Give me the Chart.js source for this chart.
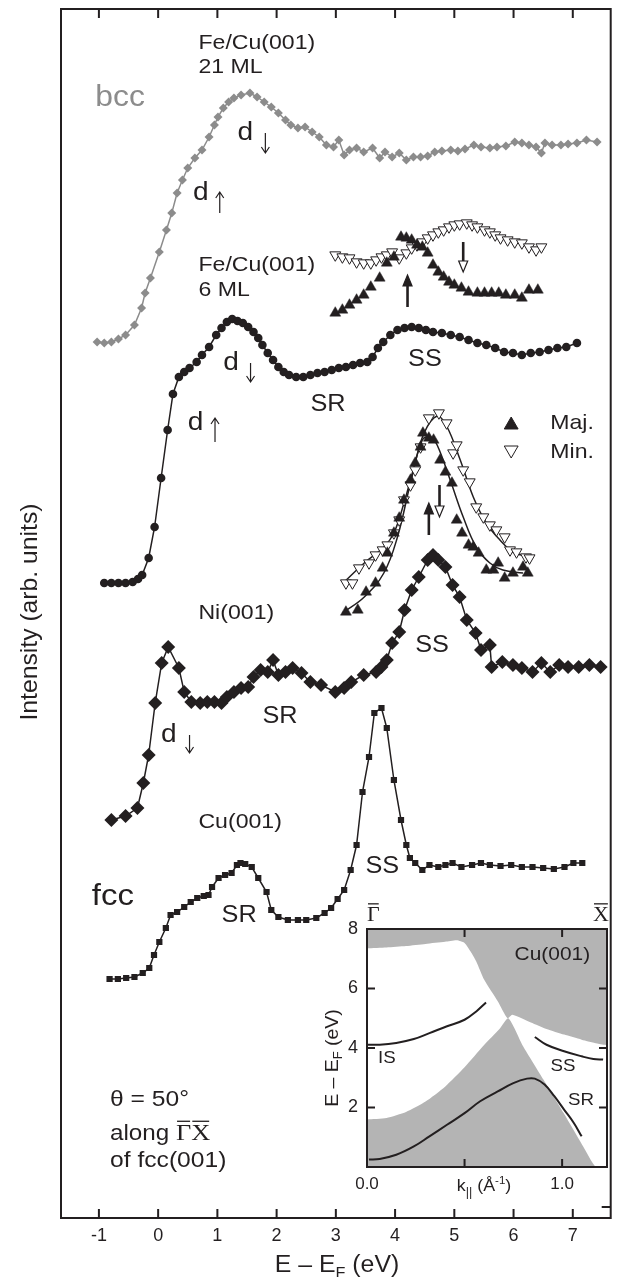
<!DOCTYPE html>
<html>
<head>
<meta charset="utf-8">
<script src="https://cdn.jsdelivr.net/npm/chart.js@4.4.1/dist/chart.umd.min.js"></script>
<style>
    html, body { margin: 0; padding: 0; background: #fff; }
    #wrap { position: relative; width: 618px; height: 1279px; }
    #main { position: absolute; left: 0; top: 0; width: 618px; height: 1279px; }
    #inset { position: absolute; left: 300px; top: 880px; width: 318px; height: 320px; }
</style>
</head>
<body>
<div id="wrap">
    <canvas id="main" width="618" height="1279"></canvas>
    <canvas id="inset" width="318" height="320"></canvas>
</div>
<script>
// ---- main panel data (E - EF in eV, intensity in arb. units) ----
const E_TICKS = [-1, 0, 1, 2, 3, 4, 5, 6, 7];
const I_TICKS = [1.1];

// bcc Fe/Cu(001) 21 ML
const bccE = [-1.03, -0.91, -0.79, -0.67, -0.55, -0.40, -0.28, -0.22, -0.13, 0.02, 0.14, 0.23, 0.32, 0.41, 0.50, 0.62, 0.74,
    0.86, 0.95, 1.01, 1.10, 1.19, 1.28, 1.40, 1.55, 1.67, 1.79, 1.91, 2.03, 2.15, 2.24, 2.36, 2.48, 2.60, 2.72, 2.84, 2.96,
    3.05, 3.14, 3.23, 3.35, 3.47, 3.62, 3.74, 3.83, 3.95, 4.07, 4.19, 4.31, 4.43, 4.55, 4.67, 4.79, 4.94, 5.06, 5.18, 5.33,
    5.45, 5.60, 5.72, 5.87, 6.02, 6.14, 6.26, 6.38, 6.47, 6.53, 6.65, 6.80, 6.92, 7.07, 7.23, 7.41];
const bccI = [87.6, 87.5, 87.6, 87.9, 88.3, 89.3, 91.0, 92.5, 94.0, 96.6, 98.8, 100.5, 102.5, 103.8, 105.0, 106.0, 106.8,
    108.1, 109.3, 110.1, 111.0, 111.6, 112.0, 112.3, 112.5, 112.1, 111.6, 111.1, 110.5, 109.8, 109.3, 109.0, 109.1, 108.6, 108.1, 107.3, 107.1,
    107.8, 106.3, 106.8, 107.0, 106.6, 107.0, 106.0, 106.6, 106.1, 106.5, 105.8, 106.1, 106.1, 106.2, 106.6, 106.7, 106.8, 106.7, 106.9, 107.3,
    107.1, 107.0, 107.1, 107.2, 107.6, 107.5, 107.3, 107.1, 106.5, 107.5, 107.3, 107.3, 107.4, 107.5, 107.8, 107.6];

// fcc Fe/Cu(001) 6 ML, spin resolved
const fe6MajE = [2.99, 3.11, 3.23, 3.35, 3.47, 3.59, 3.74, 3.86, 3.98, 4.10, 4.19, 4.28, 4.37, 4.46, 4.55, 4.64, 4.73, 4.82,
    4.91, 5.00, 5.12, 5.24, 5.39, 5.51, 5.63, 5.75, 5.87, 6.02, 6.14, 6.26, 6.41];
const fe6MajI = [90.5, 90.8, 91.3, 91.8, 92.3, 93.1, 94.0, 95.5, 96.1, 98.1, 98.0, 97.8, 97.3, 97.1, 96.5, 95.3, 94.6, 94.1,
    93.6, 93.3, 93.0, 92.6, 92.5, 92.5, 92.5, 92.5, 92.3, 92.3, 92.0, 92.8, 92.8];
const fe6MinE = [2.99, 3.11, 3.23, 3.35, 3.47, 3.59, 3.68, 3.77, 3.86, 3.95, 4.07, 4.19, 4.28, 4.37, 4.46, 4.55, 4.64, 4.73,
    4.82, 4.91, 5.00, 5.09, 5.21, 5.30, 5.39, 5.51, 5.60, 5.69, 5.78, 5.90, 6.02, 6.14, 6.26, 6.38, 6.47];
const fe6MinI = [96.3, 96.1, 96.0, 95.6, 95.5, 95.5, 95.8, 96.1, 96.3, 96.6, 96.0, 96.5, 97.0, 97.3, 97.6, 98.0, 98.3, 98.6,
    98.8, 99.1, 99.3, 99.4, 99.5, 99.3, 99.1, 98.8, 98.6, 98.3, 98.0, 97.8, 97.6, 97.5, 97.1, 96.8, 97.1];

// fcc Fe/Cu(001) 6 ML, spin integrated
const fe6E = [-0.91, -0.79, -0.67, -0.55, -0.43, -0.34, -0.27, -0.16, -0.06, 0.05, 0.16, 0.25, 0.35, 0.44, 0.53, 0.65, 0.74, 0.86,
    0.98, 1.07, 1.16, 1.25, 1.34, 1.43, 1.52, 1.61, 1.69, 1.76, 1.85, 1.94, 2.03, 2.12, 2.21, 2.33, 2.45, 2.57, 2.69, 2.81,
    2.93, 3.05, 3.17, 3.29, 3.41, 3.53, 3.62, 3.71, 3.80, 3.92, 4.04, 4.16, 4.28, 4.40, 4.52, 4.64, 4.79, 4.94, 5.09, 5.24,
    5.39, 5.54, 5.69, 5.84, 5.99, 6.14, 6.29, 6.44, 6.59, 6.74, 6.89, 7.07];
const fe6I = [63.5, 63.5, 63.5, 63.5, 63.6, 63.9, 64.3, 66.0, 69.1, 74.0, 78.8, 82.4, 84.1, 84.6, 85.0, 85.6, 86.3, 87.1,
    88.3, 89.0, 89.6, 89.9, 89.7, 89.5, 89.1, 88.6, 88.0, 87.3, 86.5, 85.8, 85.1, 84.6, 84.3, 84.1, 84.1, 84.3, 84.5, 84.6,
    84.8, 85.0, 85.1, 85.3, 85.5, 85.6, 86.1, 87.0, 87.6, 88.3, 88.8, 89.0, 89.1, 89.0, 88.8, 88.6, 88.5, 88.3, 88.1, 87.8,
    87.5, 87.3, 87.0, 86.6, 86.5, 86.3, 86.5, 86.6, 86.8, 87.0, 87.1, 87.5];

// Ni(001), spin resolved + fitted curves
const niMajE = [3.17, 3.37, 3.51, 3.67, 3.79, 3.87, 3.98, 4.07, 4.15, 4.26, 4.34, 4.43, 4.47, 4.57, 4.65, 4.76, 4.85, 4.96,
    5.04, 5.13, 5.24, 5.32, 5.41, 5.54, 5.66, 5.74, 5.85, 5.99, 6.16, 6.24];
const niMajI = [60.6, 60.8, 62.6, 63.5, 65.0, 66.5, 68.5, 70.0, 71.8, 73.8, 75.5, 77.1, 78.5, 78.0, 77.8, 75.8, 74.6, 73.5,
    69.8, 68.5, 67.3, 67.1, 66.5, 64.8, 64.8, 65.5, 64.0, 64.5, 65.1, 64.5];
const niMinE = [3.17, 3.28, 3.39, 3.56, 3.67, 3.79, 3.87, 3.98, 4.07, 4.15, 4.26, 4.34, 4.43, 4.57, 4.74, 4.87, 4.98, 5.04,
    5.15, 5.26, 5.37, 5.49, 5.60, 5.71, 5.85, 5.94, 6.05, 6.21, 6.27];
const niMinI = [63.5, 63.5, 65.0, 65.5, 66.3, 66.8, 67.3, 68.5, 69.8, 71.8, 73.3, 74.8, 77.1, 80.0, 80.5, 79.5, 76.5, 77.3,
    74.8, 73.6, 71.1, 70.1, 69.3, 68.8, 68.1, 66.8, 66.6, 66.1, 66.0];
const niMajFitE = [3.11, 3.48, 3.81, 4.04, 4.26, 4.46, 4.60, 4.71, 4.93, 5.15, 5.37, 5.60, 5.82, 6.16];
const niMajFitI = [60.5, 62.1, 64.5, 68.1, 73.5, 77.8, 78.1, 77.3, 73.8, 70.1, 67.1, 65.5, 64.8, 64.5];
const niMinFitE = [3.14, 3.48, 3.81, 3.98, 4.15, 4.32, 4.49, 4.71, 4.87, 5.10, 5.32, 5.54, 5.77, 5.99, 6.27];
const niMinFitI = [63.6, 65.5, 67.1, 68.5, 71.5, 75.1, 78.5, 80.2, 79.2, 75.8, 72.1, 69.5, 67.8, 66.6, 66.1];

// Ni(001), spin integrated
const niE = [-0.79, -0.55, -0.35, -0.25, -0.16, -0.05, 0.06, 0.17, 0.35, 0.44, 0.56, 0.71, 0.83, 0.95, 1.07, 1.16, 1.28, 1.40,
    1.52, 1.61, 1.73, 1.85, 1.94, 2.03, 2.15, 2.27, 2.42, 2.57, 2.75, 2.99, 3.14, 3.26, 3.47, 3.68, 3.77, 3.86, 3.95, 4.07,
    4.16, 4.28, 4.40, 4.55, 4.64, 4.73, 4.85, 4.97, 5.09, 5.21, 5.36, 5.45, 5.60, 5.63, 5.81, 5.99, 6.14, 6.32, 6.47, 6.62,
    6.77, 6.92, 7.10, 7.28, 7.47];
const niI = [39.8, 40.2, 41.0, 43.5, 46.3, 51.5, 55.5, 57.1, 55.0, 52.6, 51.6, 51.5, 51.6, 51.6, 51.5, 52.1, 52.6, 53.0,
    53.1, 54.1, 54.8, 54.6, 55.8, 54.3, 54.6, 55.0, 54.5, 53.6, 53.3, 52.6, 53.0, 53.6, 54.3, 54.6, 55.1, 55.8, 57.5, 58.6,
    60.8, 62.8, 64.1, 65.8, 66.3, 65.8, 65.1, 63.3, 62.1, 59.8, 58.5, 56.8, 57.3, 55.1, 55.6, 55.3, 55.0, 54.6, 55.5, 54.6,
    55.3, 55.1, 55.1, 55.3, 55.1];

// Cu(001)
const cuE = [-0.82, -0.68, -0.54, -0.40, -0.26, -0.15, -0.07, 0.02, 0.13, 0.21, 0.32, 0.44, 0.55, 0.66, 0.77, 0.85, 0.91, 1.02,
    1.13, 1.24, 1.33, 1.39, 1.47, 1.58, 1.69, 1.83, 1.91, 2.03, 2.19, 2.36, 2.50, 2.67, 2.81, 2.92, 3.03, 3.14, 3.25, 3.35,
    3.45, 3.56, 3.65, 3.77, 3.86, 3.98, 4.10, 4.19, 4.25, 4.34, 4.46, 4.58, 4.73, 4.85, 4.97, 5.12, 5.30, 5.45, 5.60, 5.78,
    5.96, 6.14, 6.32, 6.50, 6.68, 6.86, 7.01, 7.16];
const cuI = [23.9, 23.9, 24.0, 24.1, 24.5, 25.0, 26.3, 27.6, 29.0, 30.3, 30.6, 31.1, 31.6, 32.0, 32.2, 32.3, 33.1, 34.0,
    34.3, 34.5, 35.3, 35.5, 35.4, 35.1, 34.0, 32.6, 30.8, 30.1, 29.8, 29.8, 29.8, 30.0, 30.5, 31.0, 31.9, 32.8, 34.8, 37.3,
    42.6, 46.1, 50.5, 51.0, 49.0, 43.8, 39.8, 37.3, 36.0, 35.5, 34.8, 35.3, 35.1, 35.3, 35.5, 35.1, 35.3, 35.5, 35.3, 35.2,
    35.3, 35.1, 35.1, 35.0, 34.9, 35.1, 35.5, 35.5];

// ---- inset data: Cu(001) bands, k in 1/A, E - EF in eV ----
const K_TICKS = [0.5, 1.0];
const K_LABELS = [0, 1.0];
const EB_TICKS = [2, 4, 6];
const EB_LABELS = [2, 4, 6, 8];
const upperBandK = [0, 0.10, 0.20, 0.30, 0.40, 0.46, 0.50, 0.53, 0.56, 0.60, 0.67, 0.72, 0.745, 0.84, 0.92, 1.01, 1.10, 1.18, 1.23];
const upperBandE = [7.35, 7.38, 7.43, 7.50, 7.57, 7.62, 7.53, 7.25, 6.91, 6.30, 5.57, 5.00, 5.12, 4.86, 4.64, 4.45, 4.28, 4.15, 4.09];
const lowerBandK = [0, 0.10, 0.20, 0.30, 0.40, 0.50, 0.60, 0.68, 0.725, 0.80, 0.905, 1.007, 1.108, 1.173, 1.23];
const lowerBandE = [1.60, 1.65, 1.85, 2.20, 2.70, 3.35, 4.10, 4.65, 5.00, 4.06, 2.93, 1.82, 0.69, 0, 0];
const isK = [0, 0.065, 0.15, 0.24, 0.32, 0.41, 0.50, 0.56, 0.61];
const isE = [4.11, 4.11, 4.17, 4.30, 4.50, 4.73, 4.95, 5.23, 5.53];
const ssK = [0.86, 0.92, 1.01, 1.10, 1.16, 1.21];
const ssE = [4.37, 4.11, 3.89, 3.72, 3.63, 3.61];
const srK = [0.01, 0.065, 0.15, 0.24, 0.32, 0.41, 0.50, 0.58, 0.67, 0.75, 0.82, 0.86, 0.91, 0.96, 1.01, 1.06, 1.10];
const srE = [0.25, 0.27, 0.41, 0.69, 1.03, 1.42, 1.81, 2.21, 2.54, 2.82, 2.97, 2.97, 2.77, 2.38, 1.93, 1.48, 1.03];

const FONT = '"Liberation Sans", Arial, Helvetica, sans-serif';
const SERIF = '"Liberation Serif", "Times New Roman", serif';
const INK = '#231f20';
const BCC_GREY = '#8c8c8c';
const BAND_GREY = '#b4b4b4';

Chart.defaults.font.family = FONT;
Chart.defaults.color = INK;

function pts(xs, ys) {
    return xs.map((x, i) => ({ x: x, y: ys[i] }));
}

// text helper, glyphs a bit wider than Arial like in the original figure
function drawText(ctx, text, x, y, o) {
    o = o || {};
    ctx.save();
    ctx.translate(x, y);
    if (o.rotate) ctx.rotate(o.rotate);
    ctx.scale(o.stretch || 1.1, 1);
    ctx.font = (o.size || 21) + 'px ' + (o.family || FONT);
    ctx.fillStyle = o.color || INK;
    ctx.textAlign = o.align || 'left';
    ctx.textBaseline = o.baseline || 'middle';
    ctx.fillText(text, 0, 0);
    ctx.restore();
}

// mixed text with sub/superscripts and overlines, y is the baseline
function drawRich(ctx, parts, x, y, o) {
    o = o || {};
    ctx.save();
    ctx.translate(x, y);
    if (o.rotate) ctx.rotate(o.rotate);
    ctx.scale(o.stretch || 1.08, 1);
    ctx.fillStyle = INK;
    ctx.strokeStyle = INK;
    ctx.textAlign = 'left';
    ctx.textBaseline = 'alphabetic';
    let total = 0;
    parts.forEach(p => {
        ctx.font = p.size + 'px ' + (p.family || FONT);
        p.w = ctx.measureText(p.t).width;
        total += p.w;
    });
    let cx = o.align === 'center' ? -total / 2 : 0;
    parts.forEach(p => {
        ctx.font = p.size + 'px ' + (p.family || FONT);
        ctx.fillText(p.t, cx, p.dy || 0);
        if (p.bar) {
            ctx.lineWidth = 1.3;
            ctx.beginPath();
            ctx.moveTo(cx + 1, -p.size * 0.78);
            ctx.lineTo(cx + p.w - 1, -p.size * 0.78);
            ctx.stroke();
        }
        cx += p.w;
    });
    ctx.restore();
}

function thinArrow(ctx, px, pTop, pBot, up) {
    ctx.save();
    ctx.strokeStyle = INK;
    ctx.lineWidth = 1.2;
    ctx.beginPath();
    ctx.moveTo(px, pTop);
    ctx.lineTo(px, pBot);
    const tip = up ? pTop : pBot;
    const d = up ? 6 : -6;
    ctx.moveTo(px - 4, tip + d);
    ctx.lineTo(px, tip);
    ctx.lineTo(px + 4, tip + d);
    ctx.stroke();
    ctx.restore();
}

function bigArrow(ctx, px, pFrom, pTip, filled) {
    const dir = pTip < pFrom ? 1 : -1;   // 1 = pointing up
    const base = pTip + dir * 11;
    ctx.save();
    ctx.strokeStyle = INK;
    ctx.lineWidth = 2.6;
    ctx.beginPath();
    ctx.moveTo(px, pFrom);
    ctx.lineTo(px, base);
    ctx.stroke();
    ctx.lineWidth = 1.2;
    ctx.beginPath();
    ctx.moveTo(px, pTip);
    ctx.lineTo(px - 4.5, base);
    ctx.lineTo(px + 4.5, base);
    ctx.closePath();
    ctx.fillStyle = filled ? INK : '#fff';
    ctx.fill();
    ctx.stroke();
    ctx.restore();
}

function triangle(ctx, px, py, r, down, filled) {
    ctx.save();
    const s = down ? -1 : 1;
    ctx.beginPath();
    ctx.moveTo(px, py - s * r);
    ctx.lineTo(px + r * 0.866, py + s * r * 0.5);
    ctx.lineTo(px - r * 0.866, py + s * r * 0.5);
    ctx.closePath();
    ctx.fillStyle = filled ? INK : '#fff';
    ctx.strokeStyle = INK;
    ctx.lineWidth = 1;
    ctx.fill();
    ctx.stroke();
    ctx.restore();
}

// labels in data units: [text, E, I, size, colour]
const LABELS = [
    ['Fe/Cu(001)', 0.68, 117.5, 21, INK],
    ['21 ML', 0.68, 115.1, 21, INK],
    ['bcc', -1.06, 112.0, 29, BCC_GREY],
    ['Fe/Cu(001)', 0.68, 95.3, 21, INK],
    ['6 ML', 0.68, 92.8, 21, INK],
    ['SR', 2.57, 81.3, 23, INK],
    ['SS', 4.22, 85.8, 23, INK],
    ['Ni(001)', 0.68, 60.5, 21, INK],
    ['SR', 1.76, 50.1, 23, INK],
    ['SS', 4.34, 57.2, 23, INK],
    ['Cu(001)', 0.68, 39.6, 21, INK],
    ['SS', 3.50, 35.1, 23, INK],
    ['SR', 1.07, 30.2, 23, INK],
    ['fcc', -1.12, 32.1, 30, INK],
    ['Maj.', 6.62, 79.5, 21, INK],
    ['Min.', 6.62, 76.6, 21, INK]
];
// d-band labels: d position (left, baseline), arrow E, arrow top/bottom, up?
const D_LABELS = [
    [1.34, 107.8, 1.81, 108.5, 106.5, false],
    [0.59, 101.8, 1.04, 102.6, 100.5, true],
    [1.10, 84.8, 1.56, 85.5, 83.6, false],
    [0.50, 78.8, 0.96, 80.0, 77.6, true],
    [0.05, 47.6, 0.53, 48.3, 46.5, false]
];
// spin arrows: E, from, tip, filled
const SPIN_ARROWS = [
    [4.21, 91.1, 94.3, true],
    [5.15, 97.6, 94.6, false],
    [4.57, 68.3, 71.5, true],
    [4.75, 73.3, 70.1, false]
];

const mainDecor = {
    id: 'mainDecor',
    afterDraw(chart) {
        const ctx = chart.ctx;
        const a = chart.chartArea;
        const x = chart.scales.x;
        const y = chart.scales.y;
        const X = v => x.getPixelForValue(v);
        const Y = v => y.getPixelForValue(v);

        ctx.save();
        ctx.strokeStyle = INK;
        ctx.lineWidth = 2;
        ctx.strokeRect(a.left, a.top, a.right - a.left, a.bottom - a.top);
        ctx.beginPath();
        E_TICKS.forEach(v => {
            ctx.moveTo(X(v), a.bottom);
            ctx.lineTo(X(v), a.bottom - 9);
            ctx.moveTo(X(v), a.top);
            ctx.lineTo(X(v), a.top + 9);
        });
        I_TICKS.forEach(v => {
            ctx.moveTo(a.right, Y(v));
            ctx.lineTo(a.right - 9, Y(v));
        });
        ctx.stroke();
        ctx.restore();

        LABELS.forEach(l => drawText(ctx, l[0], X(l[1]), Y(l[2]), { size: l[3], color: l[4] }));

        D_LABELS.forEach(d => {
            drawText(ctx, 'd', X(d[0]), Y(d[1]), { size: 26, baseline: 'alphabetic', stretch: 1.08 });
            thinArrow(ctx, X(d[2]), Y(d[3]), Y(d[4]), d[5]);
        });

        SPIN_ARROWS.forEach(s => bigArrow(ctx, X(s[0]), Y(s[1]), Y(s[2]), s[3]));

        // legend for the spin resolved spectra
        triangle(ctx, X(5.96), Y(79.3), 8, false, true);
        triangle(ctx, X(5.96), Y(76.8), 8, true, false);

        // axis titles
        drawText(ctx, 'Intensity (arb. units)', 37, 612, { size: 24, rotate: -Math.PI / 2, align: 'center', baseline: 'alphabetic', stretch: 1.03 });
        drawRich(ctx, [
            { t: 'E \u2013 E', size: 23 },
            { t: 'F', size: 15, dy: 5 },
            { t: ' (eV)', size: 23 }
        ], 337, 1272, { align: 'center' });

        // measurement conditions
        drawText(ctx, '\u03b8 = 50\u00b0', 110, 1100, { size: 22, stretch: 1.12 });
        drawRich(ctx, [
            { t: 'along ', size: 22 },
            { t: '\u0393', size: 24, family: SERIF, bar: true },
            { t: 'X', size: 24, family: SERIF, bar: true }
        ], 110, 1140, { stretch: 1.1 });
        drawText(ctx, 'of fcc(001)', 110, 1161, { size: 22, stretch: 1.12 });
    }
};

new Chart(document.getElementById('main'), {
    type: 'scatter',
    data: {
        datasets: [
            {
                data: pts(niMajE, niMajI), showLine: false,
                pointStyle: 'triangle', pointRadius: 6.3, pointBackgroundColor: INK, pointBorderColor: INK, pointBorderWidth: 0.5
            },
            {
                data: pts(niMinE, niMinI), showLine: false,
                pointStyle: 'triangle', pointRotation: 180, pointRadius: 6.3, pointBackgroundColor: '#fff', pointBorderColor: INK, pointBorderWidth: 1
            },
            {
                data: pts(niMajFitE, niMajFitI), showLine: true, tension: 0.4,
                borderColor: INK, borderWidth: 1.5, pointRadius: 0
            },
            {
                data: pts(niMinFitE, niMinFitI), showLine: true, tension: 0.4,
                borderColor: INK, borderWidth: 1.5, pointRadius: 0
            },
            {
                data: pts(fe6MajE, fe6MajI), showLine: false,
                pointStyle: 'triangle', pointRadius: 6.3, pointBackgroundColor: INK, pointBorderColor: INK, pointBorderWidth: 0.5
            },
            {
                data: pts(fe6MinE, fe6MinI), showLine: false,
                pointStyle: 'triangle', pointRotation: 180, pointRadius: 6.3, pointBackgroundColor: '#fff', pointBorderColor: INK, pointBorderWidth: 1
            },
            {
                data: pts(bccE, bccI), showLine: true,
                borderColor: BCC_GREY, borderWidth: 1.5,
                pointStyle: 'rectRot', pointRadius: 4.5, pointBackgroundColor: BCC_GREY, pointBorderWidth: 0
            },
            {
                data: pts(fe6E, fe6I), showLine: true,
                borderColor: INK, borderWidth: 1.5,
                pointStyle: 'circle', pointRadius: 4.3, pointBackgroundColor: INK, pointBorderWidth: 0
            },
            {
                data: pts(niE, niI), showLine: true,
                borderColor: INK, borderWidth: 1.5,
                pointStyle: 'rectRot', pointRadius: 7, pointBackgroundColor: INK, pointBorderWidth: 0
            },
            {
                data: pts(cuE, cuI), showLine: true,
                borderColor: INK, borderWidth: 1.5,
                pointStyle: 'rect', pointRadius: 4.4, pointBackgroundColor: INK, pointBorderWidth: 0
            }
        ]
    },
    options: {
        responsive: false,
        animation: false,
        devicePixelRatio: 1,
        layout: { padding: { left: 61, top: 9, right: 7, bottom: 0 } },
        plugins: { legend: { display: false }, tooltip: { enabled: false } },
        scales: {
            x: {
                type: 'linear', min: -1.64, max: 7.64,
                afterBuildTicks: s => { s.ticks = E_TICKS.map(v => ({ value: v })); },
                afterFit: s => { s.height = 61; },
                grid: { display: false, drawTicks: false },
                border: { display: false },
                ticks: { font: { size: 18 }, color: INK, padding: 7, maxRotation: 0, autoSkip: false }
            },
            y: {
                type: 'linear', min: 0, max: 120.9, display: false
            }
        }
    },
    plugins: [mainDecor]
});

// ---- inset: projected bulk bands of Cu(001) ----
const INSET_LABELS = [
    ['Cu(001)', 0.95, 7.14, 19, 'center'],
    ['IS', 0.057, 3.66, 17, 'left'],
    ['SS', 0.94, 3.40, 17, 'left'],
    ['SR', 1.03, 2.25, 17, 'left']
];

const insetDecor = {
    id: 'insetDecor',
    afterDraw(chart) {
        const ctx = chart.ctx;
        const a = chart.chartArea;
        const x = chart.scales.x;
        const y = chart.scales.y;
        ctx.save();
        ctx.strokeStyle = INK;
        ctx.lineWidth = 2;
        ctx.strokeRect(a.left, a.top, a.right - a.left, a.bottom - a.top);
        ctx.beginPath();
        K_TICKS.forEach(v => {
            const px = x.getPixelForValue(v);
            ctx.moveTo(px, a.bottom); ctx.lineTo(px, a.bottom - 8);
            ctx.moveTo(px, a.top); ctx.lineTo(px, a.top + 8);
        });
        EB_TICKS.forEach(v => {
            const py = y.getPixelForValue(v);
            ctx.moveTo(a.left, py); ctx.lineTo(a.left + 8, py);
            ctx.moveTo(a.right, py); ctx.lineTo(a.right - 8, py);
        });
        ctx.stroke();
        ctx.restore();

        INSET_LABELS.forEach(l => drawText(ctx, l[0], x.getPixelForValue(l[1]), y.getPixelForValue(l[2]), { size: l[3], align: l[4] }));

        // high symmetry points
        drawRich(ctx, [{ t: '\u0393', size: 22, family: SERIF, bar: true }], a.left, a.top - 8, { stretch: 1 });
        drawRich(ctx, [{ t: 'X', size: 22, family: SERIF, bar: true }], a.right - 14, a.top - 8, { stretch: 1 });

        // axis titles
        drawRich(ctx, [
            { t: 'k', size: 17 },
            { t: '||', size: 12, dy: 5 },
            { t: ' (\u00c5', size: 17 },
            { t: '-1', size: 11, dy: -7 },
            { t: ')', size: 17 }
        ], 184, 311, { align: 'center', stretch: 1.05 });
        drawRich(ctx, [
            { t: 'E \u2013 E', size: 18 },
            { t: 'F', size: 12, dy: 4 },
            { t: ' (eV)', size: 18 }
        ], 38, 178, { align: 'center', rotate: -Math.PI / 2, stretch: 1.08 });
    }
};

new Chart(document.getElementById('inset'), {
    type: 'line',
    data: {
        datasets: [
            { data: pts(isK, isE), borderColor: INK, borderWidth: 2, pointRadius: 0, tension: 0.4, fill: false },
            { data: pts(ssK, ssE), borderColor: INK, borderWidth: 2, pointRadius: 0, tension: 0.4, fill: false },
            { data: pts(srK, srE), borderColor: INK, borderWidth: 2, pointRadius: 0, tension: 0.4, fill: false },
            { data: pts(upperBandK, upperBandE), borderWidth: 0, borderColor: 'rgba(0,0,0,0)', backgroundColor: BAND_GREY, pointRadius: 0, tension: 0.2, fill: 'end' },
            { data: pts(lowerBandK, lowerBandE), borderWidth: 0, borderColor: 'rgba(0,0,0,0)', backgroundColor: BAND_GREY, pointRadius: 0, tension: 0.2, fill: 'origin' }
        ]
    },
    options: {
        responsive: false,
        animation: false,
        devicePixelRatio: 1,
        layout: { padding: { left: 0, top: 49, right: 11, bottom: 0 } },
        plugins: { legend: { display: false }, tooltip: { enabled: false } },
        scales: {
            x: {
                type: 'linear', min: 0, max: 1.23,
                afterBuildTicks: s => { s.ticks = K_LABELS.map(v => ({ value: v })); },
                afterFit: s => { s.height = 33; },
                grid: { display: false, drawTicks: false },
                border: { display: false },
                ticks: { font: { size: 17 }, color: INK, padding: 7, maxRotation: 0, autoSkip: false, callback: v => v.toFixed(1) }
            },
            y: {
                type: 'linear', min: 0, max: 8,
                afterBuildTicks: s => { s.ticks = EB_LABELS.map(v => ({ value: v })); },
                afterFit: s => { s.width = 67; },
                grid: { display: false, drawTicks: false },
                border: { display: false },
                ticks: { font: { size: 18 }, color: INK, padding: 9, autoSkip: false }
            }
        }
    },
    plugins: [insetDecor]
});
</script>
</body>
</html>
